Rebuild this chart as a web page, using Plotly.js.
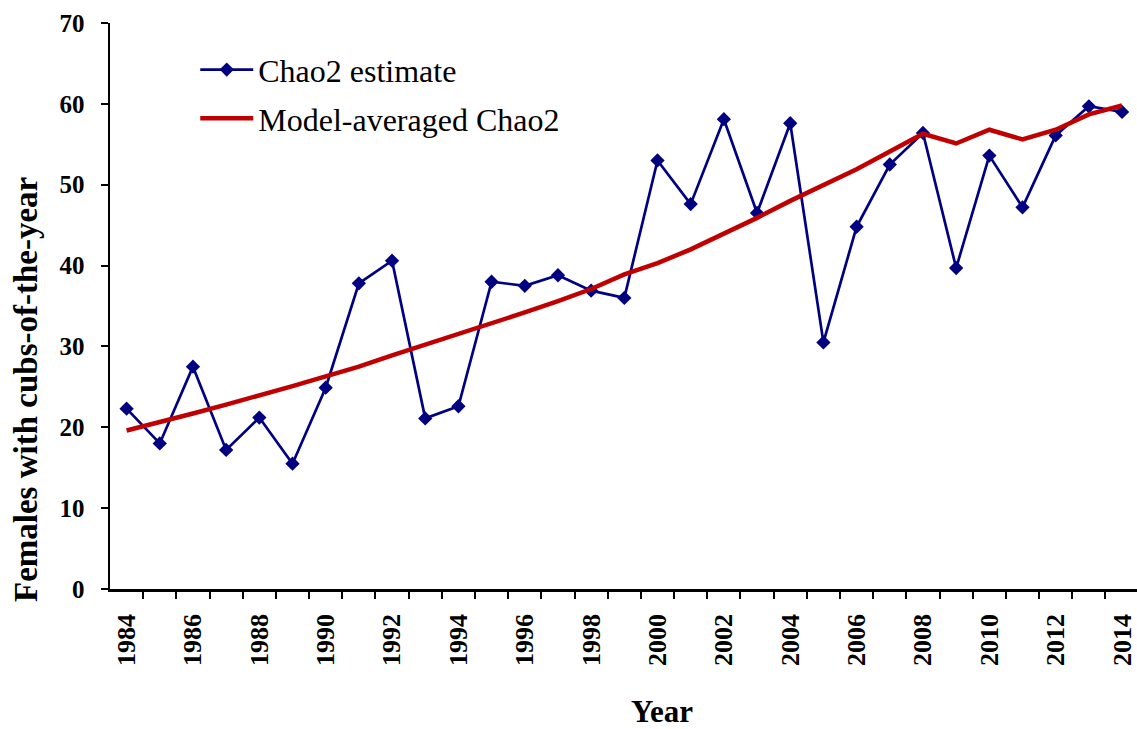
<!DOCTYPE html>
<html>
<head>
<meta charset="utf-8">
<script src="https://cdn.plot.ly/plotly-3.0.1.min.js"></script>
<style>html,body{margin:0;padding:0;background:#fff;}#chart{width:1137px;height:729px;}</style>
</head>
<body>
<div id="chart"></div>
<script>
var years = [1984,1985,1986,1987,1988,1989,1990,1991,1992,1993,1994,1995,1996,1997,1998,1999,2000,2001,2002,2003,2004,2005,2006,2007,2008,2009,2010,2011,2012,2013,2014];
var chao2Estimate = [22.3,18.0,27.5,17.2,21.2,15.5,24.9,37.8,40.6,21.1,22.6,38.0,37.5,38.8,36.9,36.0,53.0,47.6,58.1,46.5,57.6,30.5,44.8,52.5,56.4,39.7,53.6,47.2,56.1,59.7,59.0];
var modelAveraged = [19.6,20.6,21.7,22.8,23.9,25.1,26.3,27.5,28.9,30.2,31.6,32.9,34.2,35.6,37.1,38.9,40.3,42.0,43.9,45.9,48.0,50.0,51.9,54.1,56.3,55.1,56.8,55.6,56.8,58.7,59.8];
var yTicks = [0,10,20,30,40,50,60,70];
var xTickYears = years.filter(function(y){return y % 2 === 0;});
var boundaryTicks = years.map(function(y){return y + 0.5;});

var serif = "Liberation Serif, 'Times New Roman', Times, serif";

var traces = [
  {
    x: years, y: chao2Estimate, name: 'Chao2 estimate', legendgroup: 'a',
    type: 'scatter', mode: 'lines+markers',
    line: {color: '#000080', width: 2.7},
    marker: {symbol: 'diamond', size: 11, color: '#000080'}
  },
  {
    x: years, y: modelAveraged, name: 'Model-averaged Chao2', legendgroup: 'b',
    type: 'scatter', mode: 'lines',
    line: {color: '#C00000', width: 4.5}
  }
];

var layout = {
  width: 1137, height: 729,
  margin: {l: 110, r: 0, t: 23, b: 140},
  paper_bgcolor: '#fff', plot_bgcolor: '#fff',
  font: {family: serif, color: '#000'},
  showlegend: true,
  legend: {
    x: 0.083, y: 0.966, xanchor: 'left', yanchor: 'top',
    bgcolor: 'rgba(0,0,0,0)',
    font: {family: serif, size: 32, color: '#000'},
    itemwidth: 53,
    traceorder: 'grouped',
    tracegroupgap: 4
  },
  xaxis: {
    range: [1983.5, 2014.45],
    tickmode: 'array', tickvals: xTickYears, ticktext: xTickYears.map(function(y){return '<b>' + y + '</b>';}),
    ticks: '', tickangle: -90,
    tickfont: {family: serif, size: 26, weight: 'bold', color: '#000'},
    ticklabelstandoff: 12,
    showline: true, linecolor: '#000', linewidth: 2.5,
    showgrid: false, zeroline: false,
    minor: {tickmode: 'array', tickvals: boundaryTicks, ticks: 'outside', ticklen: 7, tickwidth: 2, tickcolor: '#000', showgrid: false}
  },
  yaxis: {
    range: [0, 70],
    tickmode: 'array', tickvals: yTicks, ticktext: yTicks.map(function(v){return '<b>' + v + '</b>';}),
    ticks: 'outside', ticklen: 7, tickwidth: 2, tickcolor: '#000',
    tickfont: {family: serif, size: 25, weight: 'bold', color: '#000'},
    ticklabelstandoff: 11,
    showline: true, linecolor: '#000', linewidth: 2.5,
    showgrid: false, zeroline: false
  },
  annotations: [
    {text: '<b>Females with cubs-of-the-year</b>', textangle: -90,
     xref: 'paper', yref: 'paper', x: (26 - 110) / 1027, y: (589 - 390) / 566,
     xanchor: 'center', yanchor: 'middle', showarrow: false,
     font: {family: serif, size: 33, weight: 'bold', color: '#000'}},
    {text: '<b>Year</b>',
     xref: 'paper', yref: 'paper', x: (662 - 110) / 1027, y: (589 - 711) / 566,
     xanchor: 'center', yanchor: 'middle', showarrow: false,
     font: {family: serif, size: 31, weight: 'bold', color: '#000'}}
  ]
};

Plotly.newPlot('chart', traces, layout, {displayModeBar: false, staticPlot: true});
</script>
</body>
</html>
